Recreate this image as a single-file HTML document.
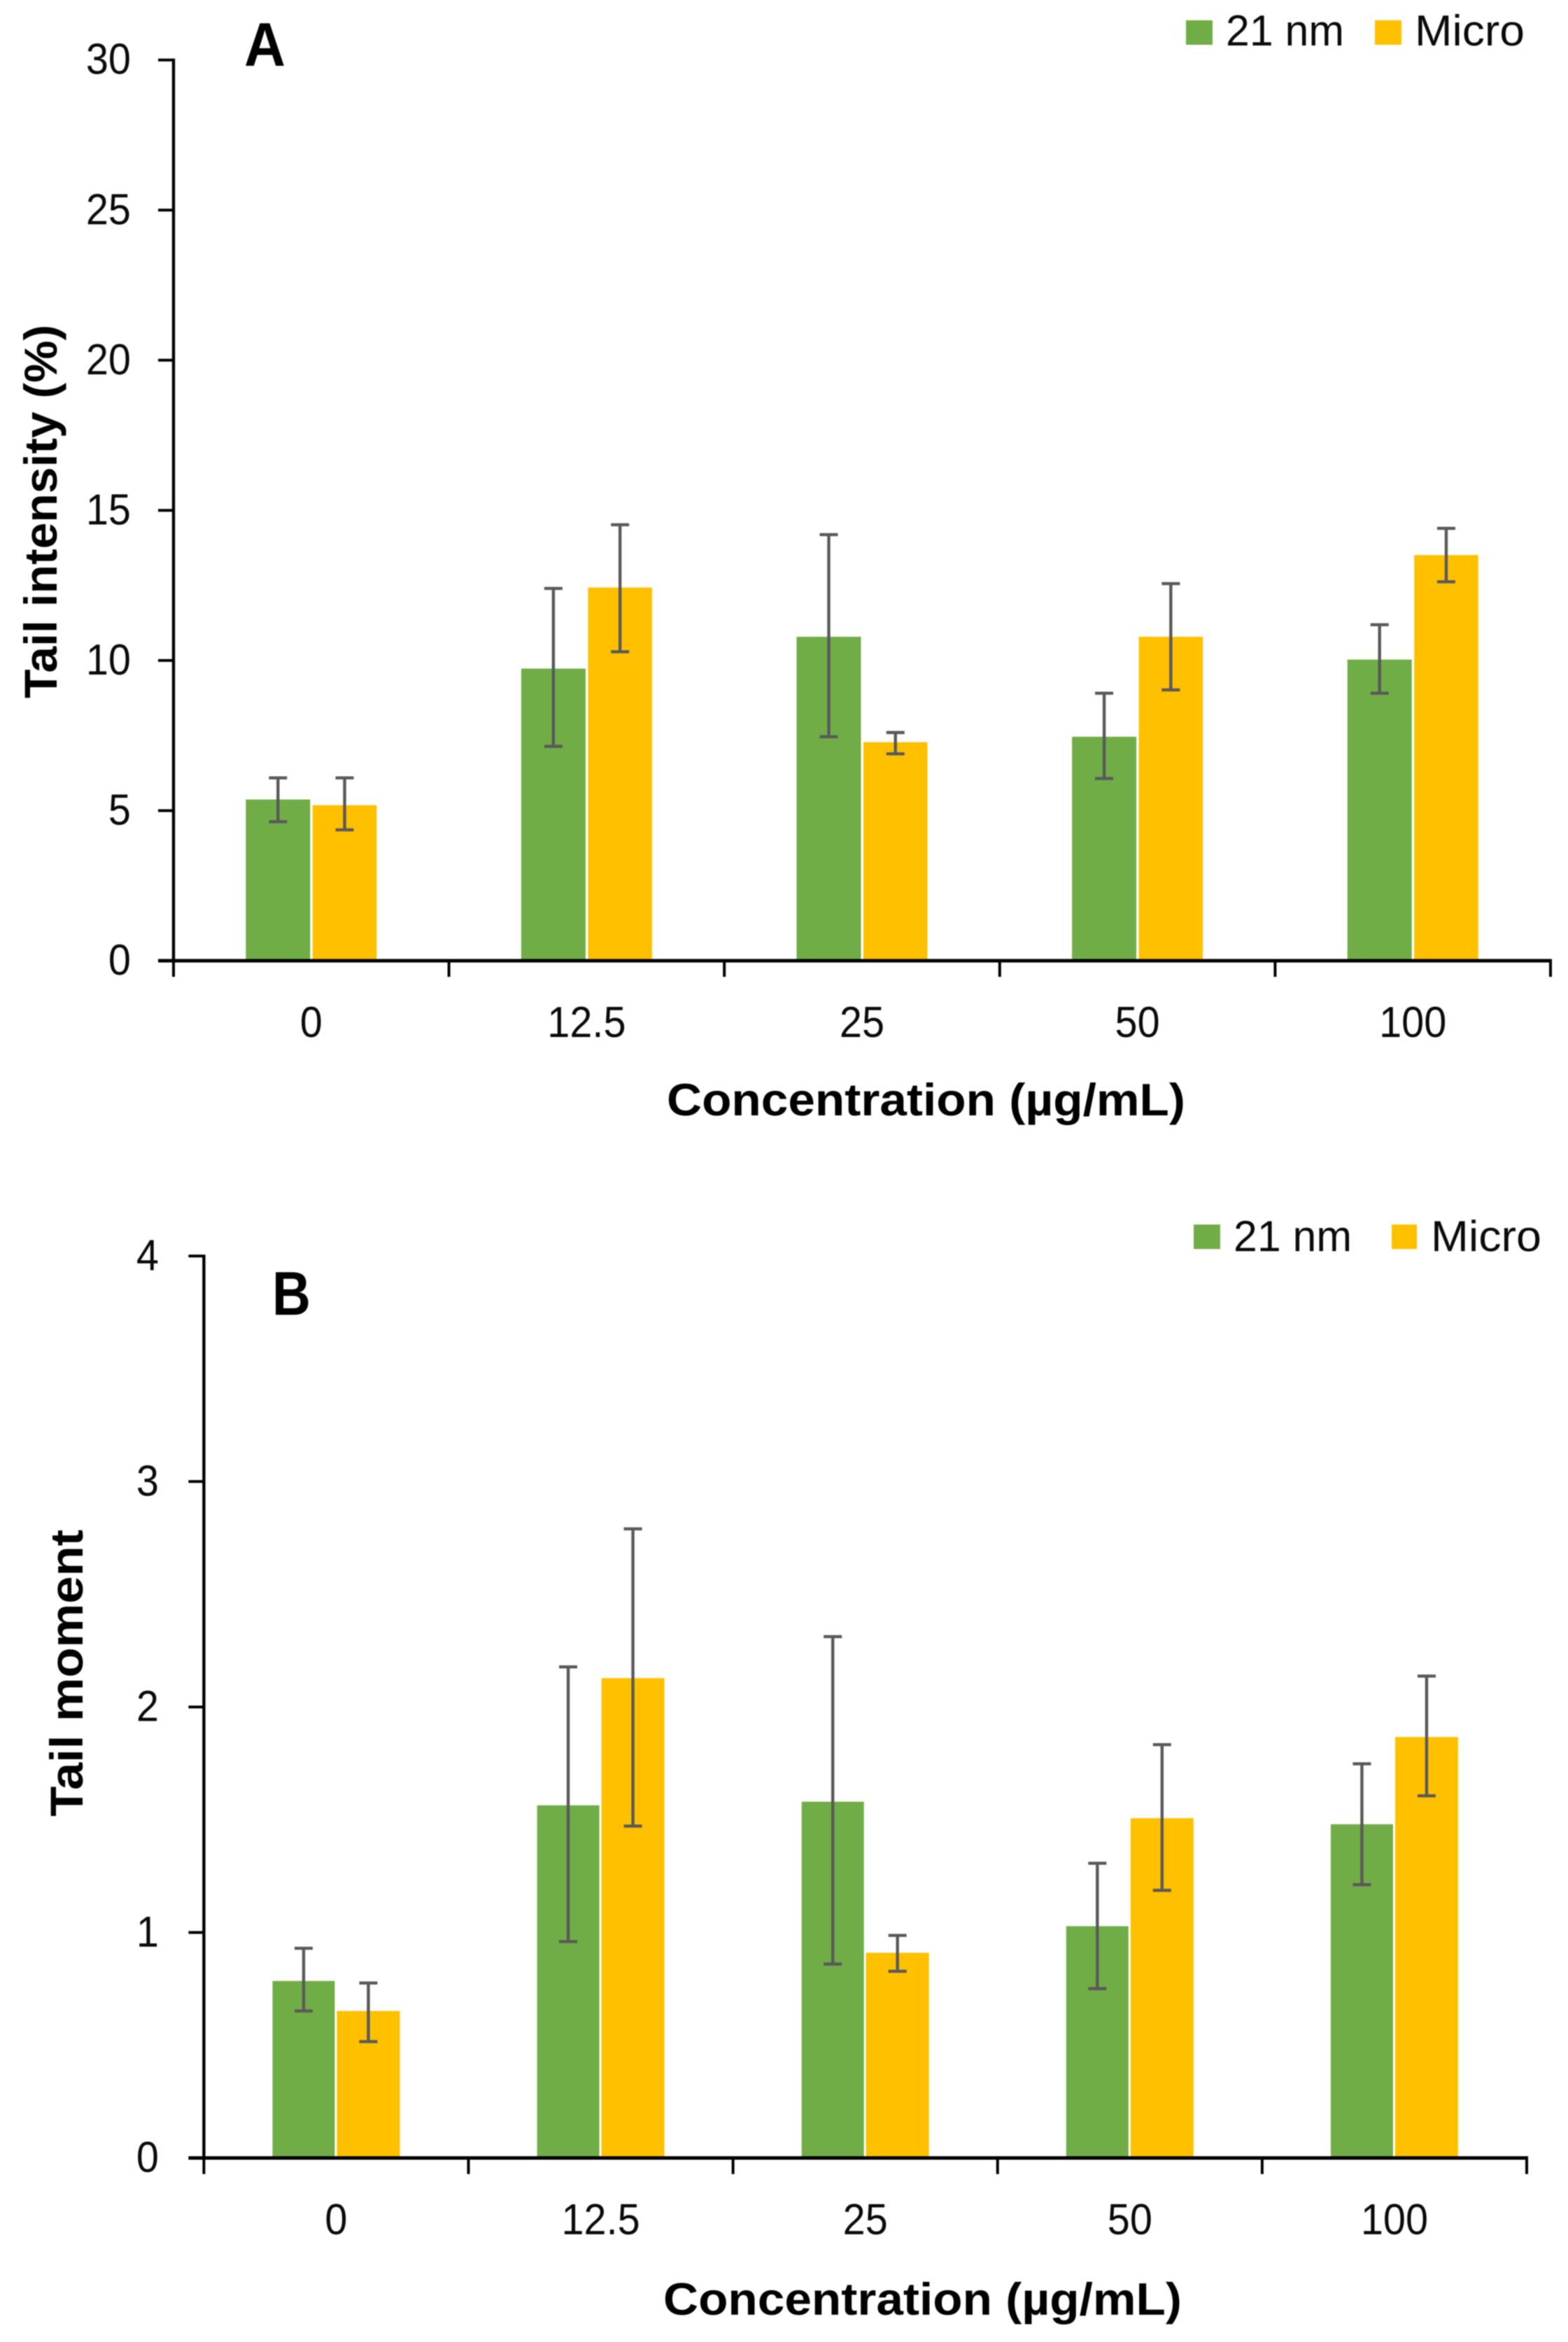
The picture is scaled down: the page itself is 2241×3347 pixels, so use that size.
<!DOCTYPE html>
<html lang="en">
<head>
<meta charset="utf-8">
<title>Tail intensity and tail moment by concentration</title>
<style>
  html, body { margin: 0; padding: 0; background: #fff; }
  body { width: 2241px; height: 3347px; overflow: hidden; }
  svg { display: block; filter: blur(0.7px); }
  text { font-family: "Liberation Sans", sans-serif; fill: #0a0a0a; }
  .tick { font-size: 62px; }
  .legend { font-size: 62px; }
  .title { font-size: 65px; font-weight: bold; fill: #000; }
  .ytitle { font-size: 66px; font-weight: bold; fill: #000; }
  .panel { font-size: 88px; font-weight: bold; fill: #000; }
</style>
</head>
<body>
<svg id="figure" xmlns="http://www.w3.org/2000/svg" width="2241" height="3347" viewBox="0 0 2241 3347">
  <rect x="0" y="0" width="2241" height="3347" fill="#ffffff"/>

  <g id="chart-a">
    <text class="panel" x="349" y="94" textLength="59" lengthAdjust="spacingAndGlyphs">A</text>
    <text class="ytitle" transform="translate(81 998) rotate(-90)" textLength="534" lengthAdjust="spacingAndGlyphs">Tail intensity (%)</text>
    <text class="title" x="953" y="1594" textLength="741" lengthAdjust="spacingAndGlyphs">Concentration (µg/mL)</text>
    <g>
      <rect x="1695" y="29" width="38" height="35" fill="#70AD47"/>
      <text class="legend" x="1752" y="65" textLength="169" lengthAdjust="spacingAndGlyphs">21 nm</text>
      <rect x="1965" y="29" width="38" height="35" fill="#FFC000"/>
      <text class="legend" x="2022" y="65" textLength="157" lengthAdjust="spacingAndGlyphs">Micro</text>
    </g>
  </g>

  <g id="chart-b">
    <text class="panel" x="389" y="1879" textLength="55" lengthAdjust="spacingAndGlyphs">B</text>
    <text class="ytitle" transform="translate(118 2596) rotate(-90)" textLength="410" lengthAdjust="spacingAndGlyphs">Tail moment</text>
    <text class="title" x="948" y="3308" textLength="741" lengthAdjust="spacingAndGlyphs">Concentration (µg/mL)</text>
    <g>
      <rect x="1706" y="1750" width="38" height="35" fill="#70AD47"/>
      <text class="legend" x="1763" y="1788" textLength="169" lengthAdjust="spacingAndGlyphs">21 nm</text>
      <rect x="1989" y="1750" width="36" height="35" fill="#FFC000"/>
      <text class="legend" x="2045" y="1788" textLength="158" lengthAdjust="spacingAndGlyphs">Micro</text>
    </g>
  </g>
</svg>

<script>
// ---- Data ----
const categories = ['0', '12.5', '25', '50', '100'];

const intensityTicks = [0, 5, 10, 15, 20, 25, 30];
const intensityNm = [5.37, 9.73, 10.79, 7.46, 10.03];
const intensityNmHigh = [6.09, 12.4, 14.19, 8.91, 11.19];
const intensityNmLow = [4.63, 7.14, 7.46, 6.07, 8.91];
const intensityMicro = [5.18, 12.43, 7.28, 10.79, 13.51];
const intensityMicroHigh = [6.09, 14.52, 7.6, 12.56, 14.4];
const intensityMicroLow = [4.36, 10.29, 6.89, 9.02, 12.62];

const momentTicks = [0, 1, 2, 3, 4];
const momentNm = [0.785, 1.564, 1.58, 1.028, 1.48];
const momentNmHigh = [0.93, 2.178, 2.312, 1.307, 1.748];
const momentNmLow = [0.652, 0.96, 0.86, 0.751, 1.212];
const momentMicro = [0.652, 2.128, 0.91, 1.507, 1.867];
const momentMicroHigh = [0.776, 2.79, 0.987, 1.833, 2.137];
const momentMicroLow = [0.516, 1.472, 0.828, 1.187, 1.606];

// ---- Drawing ----
const SVG_NS = 'http://www.w3.org/2000/svg';
const GREEN = '#70AD47';
const ORANGE = '#FFC000';
const ERR = '#595959';
const TICK_SQUEEZE = 0.93;

function shape(parent, tag, attrs) {
  const node = document.createElementNS(SVG_NS, tag);
  for (const key in attrs) node.setAttribute(key, attrs[key]);
  parent.appendChild(node);
  return node;
}

function drawChart(id, suffix, frame, ticks, series) {
  const root = document.getElementById(id);
  const yMax = ticks[ticks.length - 1];
  const yScale = v => frame.bottom - (v / yMax) * (frame.bottom - frame.top);
  const step = (frame.right - frame.left) / categories.length;
  const xCenter = i => frame.left + step * (i + 0.5);

  // bars
  series.forEach(s => {
    s.values.forEach((v, i) => {
      const c = xCenter(i);
      const bar = shape(root, 'rect', {
        x: c + s.start,
        y: yScale(v),
        width: s.end - s.start,
        height: frame.bottom - yScale(v),
        fill: s.color
      });
      
      
    });
  });

  // error bars
  series.forEach(s => {
    s.values.forEach((v, i) => {
      const cx = xCenter(i) + (s.start + s.end) / 2;
      const hi = yScale(s.high[i]);
      const lo = yScale(s.low[i]);
      const err = shape(root, 'path', {
        d: 'M' + cx + ' ' + hi + 'V' + lo +
           'M' + (cx - 13) + ' ' + hi + 'H' + (cx + 13) +
           'M' + (cx - 13) + ' ' + lo + 'H' + (cx + 13),
        fill: 'none',
        stroke: ERR,
        'stroke-width': 4.4
      });
      
      
    });
  });

  // y axis
  const yAxis = shape(root, 'line', {
    x1: frame.left, x2: frame.left, y1: frame.top - 2, y2: frame.bottom,
    stroke: '#000', 'stroke-width': 4.4
  });
  
  

  ticks.forEach(t => {
    const y = yScale(t);
    const mark = shape(root, 'line', {
      x1: frame.left - 22, x2: frame.left, y1: y, y2: y,
      stroke: '#000', 'stroke-width': t === 0 ? 5 : 4
    });
    
    

    const label = shape(root, 'text', {
      class: 'tick', 'text-anchor': 'end',
      transform: 'translate(' + frame.labelRight + ' ' + (y + 20) + ') scale(' + TICK_SQUEEZE + ' 1)'
    });
    label.textContent = String(t);
    
    
  });

  // x axis
  const xAxis = shape(root, 'line', {
    x1: frame.left - 22, x2: frame.right + 2, y1: frame.bottom, y2: frame.bottom,
    stroke: '#000', 'stroke-width': 5
  });
  
  

  for (let i = 0; i <= categories.length; i++) {
    const x = frame.left + step * i;
    const mark = shape(root, 'line', {
      x1: x, x2: x, y1: frame.bottom, y2: frame.bottom + 23,
      stroke: '#000', 'stroke-width': 4
    });
    
    
  }

  categories.forEach((cat, i) => {
    const label = shape(root, 'text', {
      class: 'tick', 'text-anchor': 'middle',
      transform: 'translate(' + xCenter(i) + ' ' + (frame.bottom + frame.labelDrop) + ') scale(' + TICK_SQUEEZE + ' 1)'
    });
    label.textContent = cat;
    
    
  });
}

drawChart('chart-a', 'a',
  { left: 248, right: 2216, top: 85.7, bottom: 1373, labelRight: 187, labelDrop: 109 },
  intensityTicks,
  [
    { key: '21nm', color: GREEN, start: -93.5, end: -1.5, values: intensityNm, high: intensityNmHigh, low: intensityNmLow },
    { key: 'micro', color: ORANGE, start: 2, end: 93.5, values: intensityMicro, high: intensityMicroHigh, low: intensityMicroLow }
  ]);

drawChart('chart-b', 'b',
  { left: 291.4, right: 2182, top: 1795, bottom: 3084, labelRight: 227, labelDrop: 109 },
  momentTicks,
  [
    { key: '21nm', color: GREEN, start: -91, end: -2, values: momentNm, high: momentNmHigh, low: momentNmLow },
    { key: 'micro', color: ORANGE, start: 1, end: 91, values: momentMicro, high: momentMicroHigh, low: momentMicroLow }
  ]);
</script>
</body>
</html>
